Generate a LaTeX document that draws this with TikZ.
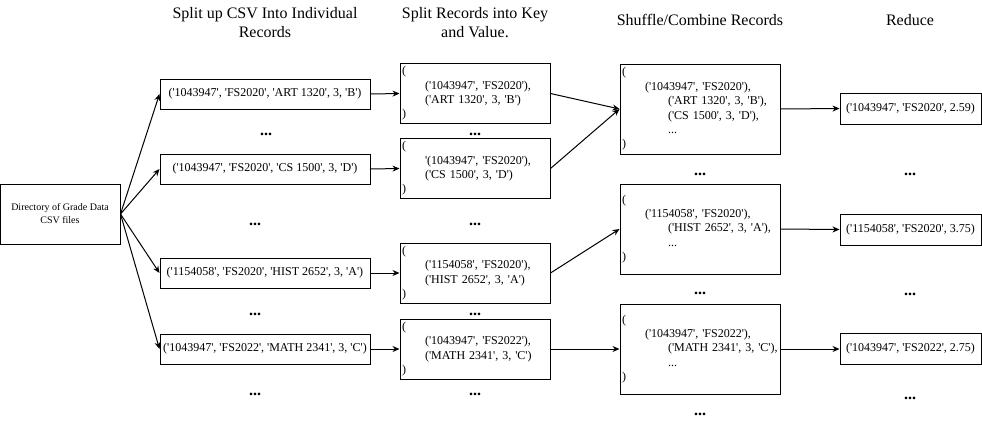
\documentclass[tikz,border=0pt]{standalone}
\usepackage{fontspec}
\setmainfont{Liberation Serif}[Ligatures=TeXOff]
\usetikzlibrary{arrows.meta}
\begin{document}
\begin{tikzpicture}[x=1pt,y=-1pt,
  box/.style={draw, line width=1pt, inner sep=0pt, font=\fontsize{12}{14.4}\selectfont},
  src/.style={box, minimum width=120pt, minimum height=60pt, align=center, font=\fontsize{10}{13}\selectfont},
  rec/.style={box, minimum width=210pt, minimum height=30pt},
  kv/.style={box, minimum width=150pt, minimum height=60pt, align=left, text width=146pt, inner xsep=2pt},
  grp/.style={box, minimum width=160pt, minimum height=90pt, align=left, text width=156pt, inner xsep=2pt},
  red/.style={box, minimum width=141pt, minimum height=31pt},
  arr/.style={-{Stealth[length=7pt,width=6pt]}, line width=1pt},
  dots/.style={font=\fontsize{16}{19}\selectfont\bfseries, anchor=base, inner sep=0pt},
  hdr/.style={font=\fontsize{16}{19}\selectfont, align=center, inner sep=0pt}
]
\useasboundingbox (0,0) rectangle (982,424);
\newcommand{\ia}{\hspace*{23pt}}
\newcommand{\ib}{\hspace*{46pt}}

% headers
\node[hdr] (h1) at (265,22.5) {Split up CSV Into Individual\\Records};
\node[hdr] (h2) at (475,22.5) {Split Records into Key\\and Value.};
\node[hdr] (h3) at (700,20) {Shuffle/Combine Records};
\node[hdr] (h4) at (910,20) {Reduce};

% source
\node[src] (s) at (60,214) {Directory of Grade Data\\CSV files};

% column 1
\node[rec] (a1) at (265,94) {('1043947', 'FS2020', 'ART 1320', 3, 'B')};
\node[rec] (a2) at (265,169) {('1043947', 'FS2020', 'CS 1500', 3, 'D')};
\node[rec] (a3) at (265,273) {('1154058', 'FS2020', 'HIST 2652', 3, 'A')};
\node[rec] (a4) at (265,349) {('1043947', 'FS2022', 'MATH 2341', 3, 'C')};

% column 2
\node[kv] (b1) at (475,93.5) {(\\\ia('1043947', 'FS2020'),\\\ia('ART 1320', 3, 'B')\\)};
\node[kv] (b2) at (475,168.5) {(\\\ia'(1043947', 'FS2020'),\\\ia('CS 1500', 3, 'D')\\)};
\node[kv] (b3) at (475,273) {(\\\ia('1154058', 'FS2020'),\\\ia('HIST 2652', 3, 'A')\\)};
\node[kv] (b4) at (475,349) {(\\\ia('1043947', 'FS2022'),\\\ia('MATH 2341', 3, 'C')\\)};

% column 3
\node[grp] (c1) at (700,109) {(\\\ia('1043947', 'FS2020'),\\\ib('ART 1320', 3, 'B'),\\\ib('CS 1500', 3, 'D'),\\\ib...\\)};
\node[grp] (c2) at (700,229) {(\\\ia('1154058', 'FS2020'),\\\ib('HIST 2652', 3, 'A'),\\\ib...\\)};
\node[grp] (c3) at (700,349) {(\\\ia('1043947', 'FS2022'),\\\ib('MATH 2341', 3, 'C'),\\\ib...\\)};

% column 4
\node[red] (d1) at (910.5,108.5) {('1043947', 'FS2020', 2.59)};
\node[red] (d2) at (910.5,229.5) {('1154058', 'FS2020', 3.75)};
\node[red] (d3) at (910.5,349) {('1043947', 'FS2022', 2.75)};

% ellipses
\node[dots] (e1) at (266,135) {...};
\node[dots] (e2) at (255,225) {...};
\node[dots] (e3) at (255,315) {...};
\node[dots] (e4) at (255,395) {...};
\node[dots] (f1) at (475,135) {...};
\node[dots] (f2) at (475,225) {...};
\node[dots] (f3) at (475,315) {...};
\node[dots] (f4) at (475,395) {...};
\node[dots] (g1) at (700,175) {...};
\node[dots] (g2) at (700,294) {...};
\node[dots] (g3) at (700,415) {...};
\node[dots] (k1) at (910,175) {...};
\node[dots] (k2) at (910,295) {...};
\node[dots] (k3) at (910,399) {...};

% connectors
\foreach \t in {a1,a2,a3,a4} \draw[arr] (s.east) -- (\t.west);
\draw[arr] (a1.east) -- (b1.west);
\draw[arr] (a2.east) -- (b2.west);
\draw[arr] (a3.east) -- (b3.west);
\draw[arr] (a4.east) -- (b4.west);
\draw[arr] (b1.east) -- (c1.west);
\draw[arr] (b2.east) -- (c1.west);
\draw[arr] (b3.east) -- (c2.west);
\draw[arr] (b4.east) -- (c3.west);
\draw[arr] (c1.east) -- (d1.west);
\draw[arr] (c2.east) -- (d2.west);
\draw[arr] (c3.east) -- (d3.west);
\end{tikzpicture}
\end{document}
